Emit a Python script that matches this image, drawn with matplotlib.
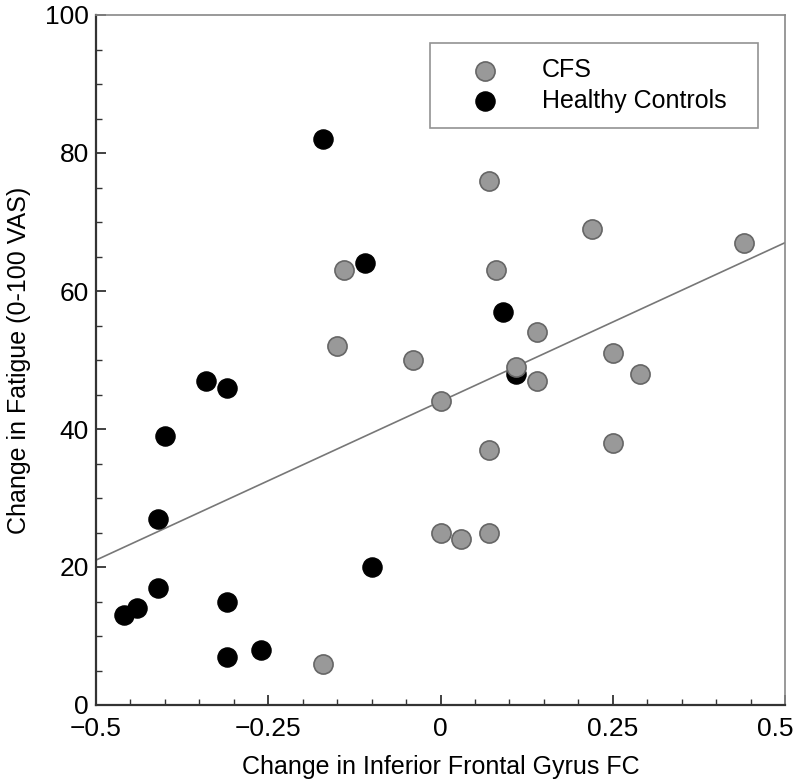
import numpy as np
import matplotlib.pyplot as plt
from matplotlib.ticker import MultipleLocator
from matplotlib.transforms import ScaledTranslation

plt.rcParams['font.family'] = ['Liberation Sans', 'DejaVu Sans']

# CFS patients
cfs_x = [-0.17, -0.14, -0.15, -0.04, 0.00, 0.07, 0.08, 0.22, 0.44, 0.14,
         0.11, 0.14, 0.25, 0.29, 0.25, 0.07, 0.00, 0.03, 0.07]
cfs_y = [6, 63, 52, 50, 44, 76, 63, 69, 67, 54,
         49, 47, 51, 48, 38, 37, 25, 24, 25]

# healthy controls
hc_x = [-0.17, -0.11, -0.34, -0.31, -0.40, -0.41, -0.41, -0.46, -0.44, -0.31,
        -0.31, -0.26, -0.10, 0.09, 0.11]
hc_y = [82, 64, 47, 46, 39, 27, 17, 13, 14, 15,
        7, 8, 20, 57, 48]

# regression line (value at x=-0.5 and x=0.5)
line_x = [-0.5, 0.5]
line_y = [21, 67]

xtick_vals = [-0.5, -0.25, 0, 0.25, 0.5]
xtick_labels = ['\u22120.5', '\u22120.25', '0', '0.25', '0.5']

fig = plt.figure(figsize=(8.01, 7.83), dpi=100)
ax = fig.add_axes([96 / 801, 1 - 705 / 783, 689 / 801, 690 / 783])

ax.plot(line_x, line_y, color='#777777', lw=1.2, zorder=1)
ax.scatter(hc_x, hc_y, s=190, c='black', edgecolors='black', lw=1, zorder=2,
           label='Healthy Controls')
ax.scatter(cfs_x, cfs_y, s=190, c='#999999', edgecolors='#666666', lw=1.2,
           zorder=3, label='CFS')

ax.set_xlim(-0.5, 0.5)
ax.set_ylim(0, 100)
ax.set_xticks(xtick_vals)
ax.set_xticklabels(xtick_labels)
ax.xaxis.set_minor_locator(MultipleLocator(0.05))
ax.yaxis.set_major_locator(MultipleLocator(20))
ax.yaxis.set_minor_locator(MultipleLocator(5))
ax.tick_params(which='both', direction='in', labelsize=19, color='#333333')
ax.tick_params(which='major', length=7, width=1.3)
ax.tick_params(which='minor', length=4, width=1)
ax.tick_params(axis='x', pad=9)
ax.tick_params(axis='y', pad=5)

# keep the last x label inside the picture, as in the original
last = ax.get_xticklabels()[-1]
last.set_horizontalalignment('right')
last.set_transform(last.get_transform() + ScaledTranslation(8 / 100, 0, fig.dpi_scale_trans))

for side in ['left', 'bottom']:
    ax.spines[side].set_color('#333333')
    ax.spines[side].set_linewidth(1.6)
for side in ['top', 'right']:
    ax.spines[side].set_color('#888888')
    ax.spines[side].set_linewidth(1.2)

ax.set_xlabel('Change in Inferior Frontal Gyrus FC', fontsize=18, labelpad=10)
ax.set_ylabel('Change in Fatigue (0-100 VAS)', fontsize=18, labelpad=10)

handles, labels = ax.get_legend_handles_labels()
leg = ax.legend(handles[::-1], labels[::-1], loc='upper left', mode='expand',
                bbox_to_anchor=(0.4848, 0.83, 0.476, 0.129), fontsize=18,
                frameon=True, fancybox=False, edgecolor='#777777',
                borderpad=0.6, handlelength=3.2, handletextpad=0.68,
                labelspacing=0.25, scatterpoints=1, borderaxespad=0)
leg.get_frame().set_linewidth(1.2)

fig.savefig('out.png', dpi=100)
